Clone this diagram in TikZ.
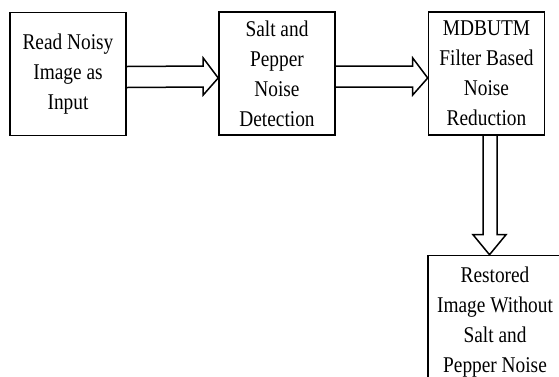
\documentclass[tikz,border=0pt]{standalone}
\usepackage{fontspec}
\usepackage{tikz}
\usetikzlibrary{calc}
\newfontfamily\boxfont[FakeStretch=0.86]{Liberation Serif}

% hollow block arrows between boxes
\newcommand{\widearrowright}[2]{%
  \draw[arrowline] ($(#1.east)+(0,-7.5)$) -- ($(#2.west)+(-15,-7.5)$) -- ($(#2.west)+(-15,-15.5)$) -- ($(#2.west)+(0,4.5)$) -- ($(#2.west)+(-15,21.5)$) -- ($(#2.west)+(-15,13.5)$) -- ($(#1.east)+(0,13.5)$);}
\newcommand{\widearrowdown}[2]{%
  \coordinate (tip) at ([xshift=3pt]#1.south |- #2.north);
  \draw[arrowline] ($(#1.south)+(-3.5,0)$) -- ($(tip)+(-6.5,-20)$) -- ($(tip)+(-16.5,-20)$) -- (tip) -- ($(tip)+(16.5,-20)$) -- ($(tip)+(7.5,-20)$) -- ($(#1.south)+(10.5,0)$);}

\begin{document}
\begin{tikzpicture}[x=1pt,y=1pt,yscale=-1,
  block/.style={draw,line width=1.6pt,inner sep=0pt,minimum width=116pt,minimum height=123pt,align=center,font=\boxfont\fontsize{22.5}{30}\selectfont},
  arrowline/.style={line width=1.5pt,line join=miter}]
  \useasboundingbox (0,0) rectangle (559,376);
  \node[block] (read) at (68,74) {Read Noisy\\Image as\\Input};
  \node[block] (detect) at (277,73.5) {Salt and\\Pepper\\Noise\\Detection};
  \node[block] (filter) at (486.5,73.5) {MDBUTM\\Filter Based\\Noise\\Reduction};
  \node[block,minimum width=134pt,minimum height=133pt] (restored) at (495,322) {Restored\\Image Without\\Salt and\\Pepper Noise};
  \widearrowright{read}{detect}
  \widearrowright{detect}{filter}
  \widearrowdown{filter}{restored}
\end{tikzpicture}
\end{document}
